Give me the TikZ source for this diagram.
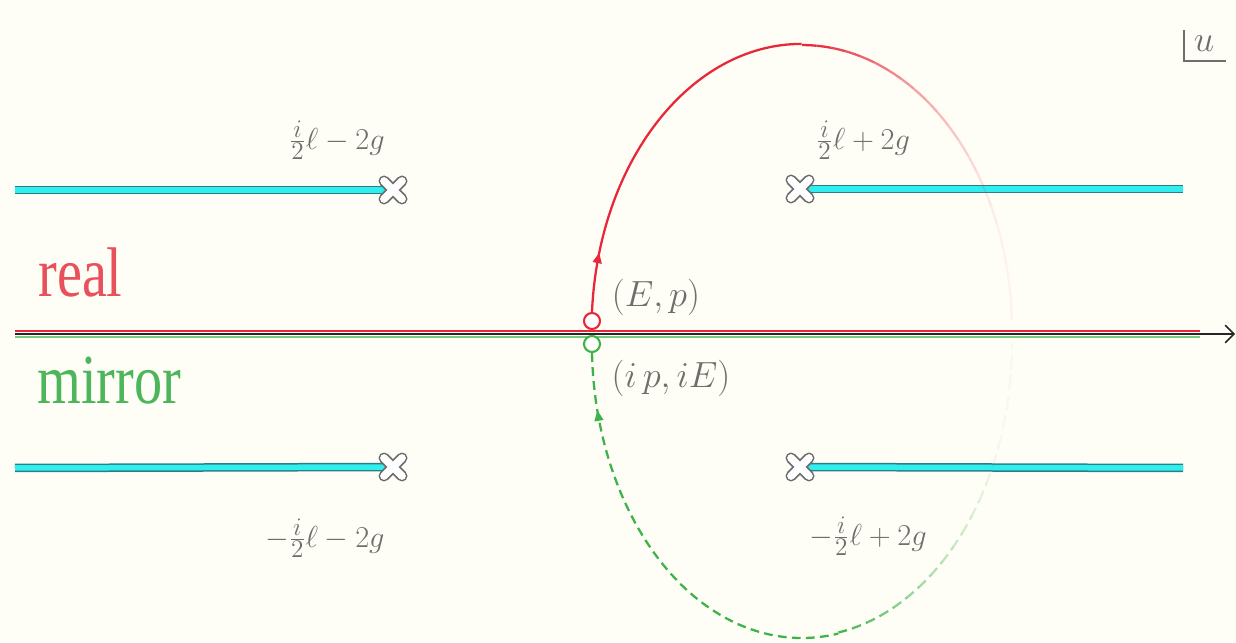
\documentclass[tikz,border=0pt]{standalone}
\usepackage{fontspec}
\newfontfamily\wordfont{Liberation Serif}
\usetikzlibrary{arrows.meta,calc,decorations.markings}
\definecolor{bgc}{HTML}{FFFEF6}
\definecolor{redc}{HTML}{E8283A}
\definecolor{redtxt}{HTML}{E8505C}
\definecolor{greenc}{HTML}{3DB34A}
\definecolor{greentxt}{HTML}{4DB55A}
\definecolor{cutc}{HTML}{30EEEE}
\definecolor{cutedge}{HTML}{2A7F86}
\definecolor{labc}{HTML}{6E6E6E}
\tikzset{
  cutouter/.style={cutedge, line width=0.17cm},
  cutinner/.style={cutc, line width=0.11cm},
  lab/.style={text=labc, font=\fontsize{19}{22}\selectfont, inner sep=0},
  word/.style={font=\wordfont\fontsize{32}{36}\selectfont, inner sep=0, anchor=base west},
  pt/.style={circle, draw, line width=1.2pt, fill=white, minimum size=0.32cm, inner sep=0},
  redarc/.style={redc, line width=1.3pt},
  greenarc/.style={greenc, line width=1.3pt, dash pattern=on 5pt off 3pt},
  brcross/.pic={
    \draw[gray!85!black, line width=0.22cm, line cap=round] (-0.18cm,-0.18cm)--(0.18cm,0.18cm) (-0.18cm,0.18cm)--(0.18cm,-0.18cm);
    \draw[white, line width=0.155cm, line cap=round] (-0.18cm,-0.18cm)--(0.18cm,0.18cm) (-0.18cm,0.18cm)--(0.18cm,-0.18cm);
  },
}
\begin{document}
\begin{tikzpicture}[x=0.02cm, y=0.02cm]
\useasboundingbox (0,0) rectangle (1236,642);
\fill[bgc] (0,0) rectangle (1236,642);

% axis lines
\coordinate (rl0) at (15,311); \coordinate (rl1) at (1200,311);
\coordinate (ax0) at (15,308); \coordinate (ax1) at (1235,308);
\coordinate (gl0) at (15,305); \coordinate (gl1) at (1200,305);
\draw[redc, line width=1.3pt] (rl0) -- (rl1);
\draw[greenc!70, line width=1.2pt] (gl0) -- (gl1);
\draw[black!85, line width=0.9pt, -{Straight Barb[length=5pt,width=10pt]}] (ax0) -- (ax1);

% cuts
\coordinate (ul0) at (15,452); \coordinate (ulx) at (393,452);
\coordinate (urx) at (800,453); \coordinate (ur1) at (1183,453);
\coordinate (ll0) at (15,174); \coordinate (llx) at (393,175);
\coordinate (lrx) at (800,175); \coordinate (lr1) at (1183,174);
\foreach \p/\q in {ul0/ulx, urx/ur1, ll0/llx, lrx/lr1}{
  \draw[cutouter] (\p) -- (\q);
  \draw[cutinner] (\p) -- (\q);
}
\foreach \c in {ulx,urx,llx,lrx} \pic at (\c) {brcross};

% points
\node[pt, draw=redc] (rc) at (592,321) {};
\node[pt, draw=greenc] (gc) at (592,298) {};
\coordinate (Cr) at (802,312);
\coordinate (Cg) at (802,299);

% red contour
\draw[redarc, postaction={decorate}, decoration={markings, mark=at position 0.16 with {\arrow{Triangle[length=6pt,width=5pt]}}}]
  (rc.north) arc[start angle=176.6, end angle=90, x radius=4.2cm, y radius=5.7cm];
\foreach \a in {90,86,...,4}{
  \pgfmathsetmacro{\b}{\a-4}
  \pgfmathsetmacro{\op}{min(1,max(0.05,((\a-2)/86)^2))}
  \draw[redarc, draw opacity=\op] ($(Cr)+(\a:4.2cm and 5.7cm)$) arc[start angle=\a, end angle=\b, x radius=4.2cm, y radius=5.7cm];
}

% green contour
\draw[greenarc, postaction={decorate}, decoration={markings, mark=at position 0.135 with {\arrowreversed{Triangle[length=6pt,width=5pt]}}}]
  (gc.south) arc[start angle=181.75, end angle=280, x radius=4.2cm, y radius=5.88cm];
\foreach \a in {280,284,...,356}{
  \pgfmathsetmacro{\b}{\a+4}
  \pgfmathsetmacro{\op}{max(0.05,((358-\a)/80)^2)}
  \draw[greenarc, draw opacity=\op] ($(Cg)+(\a:4.2cm and 5.88cm)$) arc[start angle=\a, end angle=\b, x radius=4.2cm, y radius=5.88cm];
}

% labels
\node[lab] (lul) at (337,502) {$\frac{i}{2}\ell-2g$};
\node[lab] (lur) at (863,502) {$\frac{i}{2}\ell+2g$};
\node[lab] (lll) at (325,104) {$-\frac{i}{2}\ell-2g$};
\node[lab] (llr) at (868,106) {$-\frac{i}{2}\ell+2g$};
\node[lab, font=\fontsize{21}{24}\selectfont] (ep) at (656,345) {$(E,p)$};
\node[lab, font=\fontsize{21}{24}\selectfont] (ipe) at (671,264) {$(i\,p,iE)$};

\node[word, text=redtxt] (real) at (38,345) {\scalebox{1}[1.25]{real}};
\node[word, text=greentxt] (mirror) at (37,238) {\scalebox{1}[1.25]{mirror}};

% u frame
\node[lab, font=\fontsize{20}{24}\selectfont] (ulab) at (1204,598) {$u$};
\coordinate (fa) at (1184,612); \coordinate (fb) at (1184,581); \coordinate (fc) at (1226,581);
\draw[labc, line width=0.9pt] (fa) -- (fb) -- (fc);
\end{tikzpicture}
\end{document}
